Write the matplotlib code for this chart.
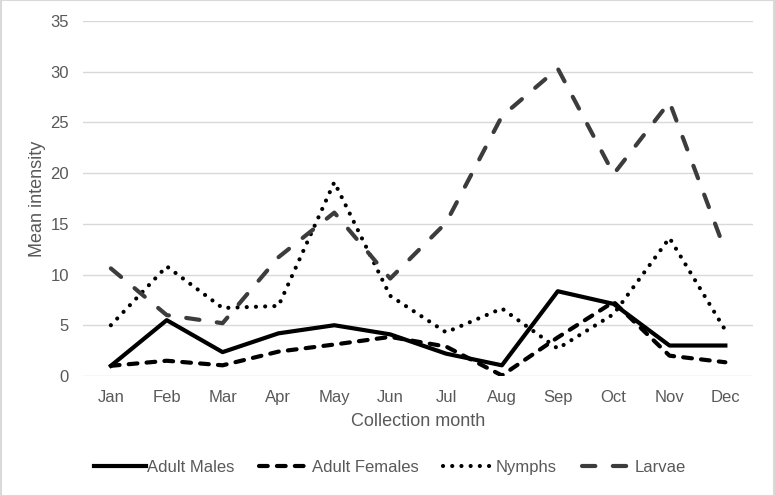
import numpy as np
import matplotlib.pyplot as plt

plt.rcParams['font.family'] = ['Liberation Sans', 'DejaVu Sans']

months = ['Jan', 'Feb', 'Mar', 'Apr', 'May', 'Jun', 'Jul', 'Aug', 'Sep', 'Oct', 'Nov', 'Dec']
adult_males = [1.0, 5.5, 2.35, 4.2, 5.0, 4.1, 2.2, 1.05, 8.35, 7.1, 3.0, 3.0]
adult_females = [1.0, 1.5, 1.05, 2.4, 3.1, 3.85, 2.9, 0.05, 3.8, 7.3, 2.0, 1.35]
nymphs = [5.0, 10.8, 6.7, 6.9, 19.1, 7.9, 4.3, 6.65, 2.7, 6.1, 13.6, 4.5]
larvae = [10.6, 6.0, 5.2, 11.7, 16.1, 9.6, 15.1, 25.6, 30.3, 19.9, 27.0, 12.3]

grey = '#595959'
fig = plt.figure(figsize=(7.75, 4.96), dpi=100)
ax = fig.add_axes([0.107, 0.242, 0.865, 0.716])

x = np.arange(len(months))
ax.plot(x, adult_males, color='black', lw=3, ls='-', label='Adult Males')
ax.plot(x, adult_females, color='black', lw=3, ls=(0, (2.1, 2.2)), dash_capstyle='round',
        label='Adult Females')
ax.plot(x, nymphs, color='black', lw=3, ls=(0, (0.01, 2.2)), dash_capstyle='round',
        label='Nymphs')
ax.plot(x, larvae, color='#3c3c3c', lw=3, ls=(0, (3.2, 4.2)), dash_capstyle='round',
        label='Larvae')

ax.set_xlim(-0.5, 11.5)
ax.set_ylim(0, 35)
ax.set_yticks(np.arange(0, 36, 5))
ax.set_xticks(x)
ax.set_xticklabels(months)
ax.grid(axis='y', color='#d9d9d9', lw=1)
ax.set_axisbelow(True)
for s in ax.spines.values():
    s.set_visible(False)
ax.tick_params(length=0, labelsize=12, colors=grey)
ax.tick_params(axis='x', pad=10)
ax.tick_params(axis='y', pad=10)
ax.set_xlabel('Collection month', fontsize=13, color=grey, labelpad=6)
ax.set_ylabel('Mean intensity', fontsize=13, color=grey, labelpad=3)

leg = fig.legend(loc='center', bbox_to_anchor=(0.503, 0.058), ncol=4, frameon=False,
                 fontsize=12, handlelength=3.1, handletextpad=0.05, columnspacing=1.5)
for t in leg.get_texts():
    t.set_color(grey)

fig.patches.append(plt.Rectangle((0.001, 0.001), 0.998, 0.998, transform=fig.transFigure,
                                 fill=False, edgecolor='#d9d9d9', lw=1.5))
fig.savefig('out.png', dpi=100)
